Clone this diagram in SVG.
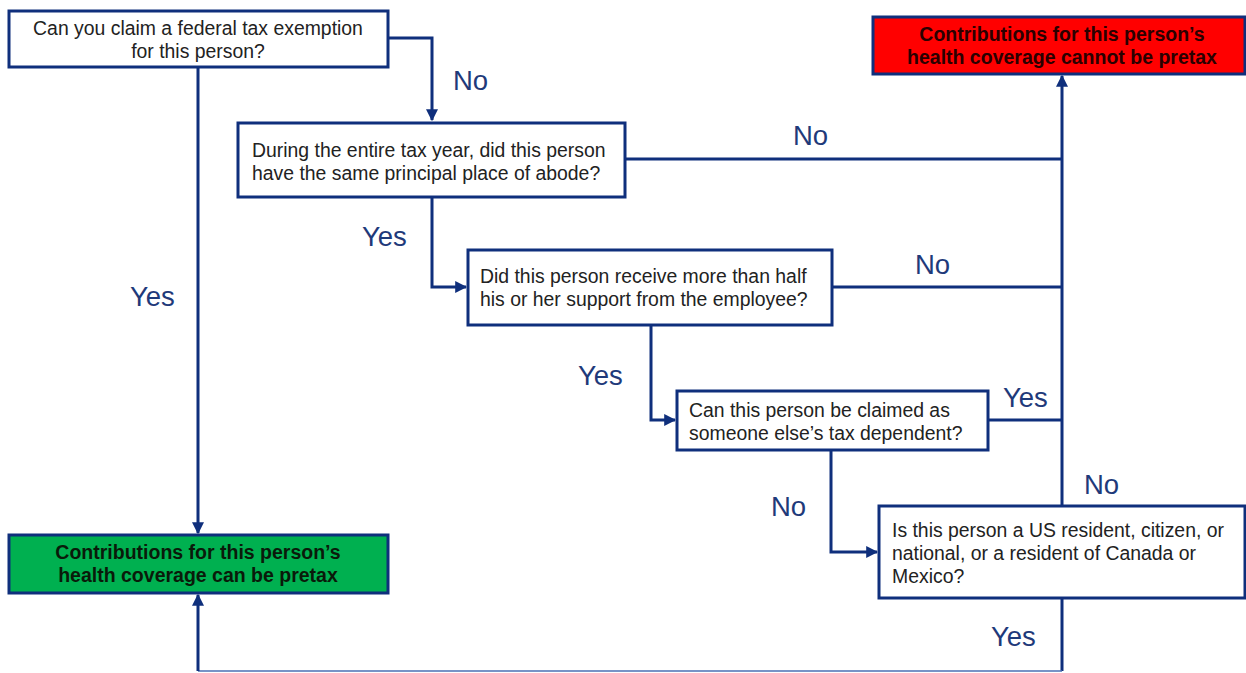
<svg xmlns="http://www.w3.org/2000/svg" width="1246" height="673" viewBox="0 0 1246 673">
<defs>
<marker id="arr" viewBox="0 0 10 10" refX="9" refY="5" markerWidth="4" markerHeight="4" orient="auto-start-reverse" markerUnits="strokeWidth">
<path d="M0,0 L10,5 L0,10 z" fill="#0f2f7c"/>
</marker>
<style>
.box{fill:#fff;stroke:#0f2f7c;stroke-width:3}
.q{font-family:"Liberation Sans",Arial,sans-serif;font-size:19.4px;fill:#222}
.o{font-family:"Liberation Sans",Arial,sans-serif;font-size:19.5px;font-weight:bold;text-anchor:middle}
.lbl{font-family:"Liberation Sans",Arial,sans-serif;font-size:27.5px;fill:#1f3a7a}
.c{fill:none;stroke:#0f2f7c;stroke-width:3}
</style>
</defs>
<rect width="1246" height="673" fill="#fff"/>
<g id="connectors">
<path class="c" d="M388,38 H432 V120" marker-end="url(#arr)"/>
<path class="c" d="M198,67 V533" marker-end="url(#arr)"/>
<path class="c" d="M625,159 H1062"/>
<path class="c" d="M432,197 V287 H466" marker-end="url(#arr)"/>
<path class="c" d="M832,287 H1062"/>
<path class="c" d="M651,325 V420 H675" marker-end="url(#arr)"/>
<path class="c" d="M988,420 H1062"/>
<path class="c" d="M831,450 V552 H877" marker-end="url(#arr)"/>
<path class="c" d="M1062,506 V76" marker-end="url(#arr)"/>
<path class="c" d="M1062,598 V671"/>
<path d="M1062,671 H198" fill="none" stroke="#4a6fb5" stroke-width="1.5"/>
<path class="c" d="M198,671 V595" marker-end="url(#arr)"/>
<text class="lbl" x="453" y="90">No</text>
<text class="lbl" x="130" y="306">Yes</text>
<text class="lbl" x="793" y="145">No</text>
<text class="lbl" x="362" y="246">Yes</text>
<text class="lbl" x="915" y="274">No</text>
<text class="lbl" x="578" y="385">Yes</text>
<text class="lbl" x="1003" y="407">Yes</text>
<text class="lbl" x="771" y="516">No</text>
<text class="lbl" x="1084" y="494">No</text>
<text class="lbl" x="991" y="646">Yes</text>
</g>
<g id="q1">
<rect class="box" x="9" y="11" width="379" height="56"/>
<text class="q" x="198" y="35" text-anchor="middle">Can you claim a federal tax exemption</text>
<text class="q" x="198" y="58" text-anchor="middle">for this person?</text>
</g>
<g id="q2">
<rect class="box" x="238" y="123" width="387" height="74"/>
<text class="q" x="252" y="157">During the entire tax year, did this person</text>
<text class="q" x="252" y="180">have the same principal place of abode?</text>
</g>
<g id="q3">
<rect class="box" x="468" y="250" width="364" height="75"/>
<text class="q" x="480" y="283">Did this person receive more than half</text>
<text class="q" x="480" y="306">his or her support from the employee?</text>
</g>
<g id="q4">
<rect class="box" x="677" y="391" width="311" height="59"/>
<text class="q" x="689" y="417">Can this person be claimed as</text>
<text class="q" x="689" y="440">someone else’s tax dependent?</text>
</g>
<g id="q5">
<rect class="box" x="879" y="506" width="366" height="92"/>
<text class="q" x="892" y="537">Is this person a US resident, citizen, or</text>
<text class="q" x="892" y="560">national, or a resident of Canada or</text>
<text class="q" x="892" y="583">Mexico?</text>
</g>
<g id="pretax">
<rect x="9" y="535" width="379" height="58" fill="#00b050" stroke="#0f2f7c" stroke-width="3"/>
<text class="o" x="198" y="559" fill="#0a1a0a">Contributions for this person’s</text>
<text class="o" x="198" y="582" fill="#0a1a0a">health coverage can be pretax</text>
</g>
<g id="notpretax">
<rect x="873" y="17" width="372" height="57" fill="#ff0000" stroke="#0f2f7c" stroke-width="3"/>
<text class="o" x="1062" y="41" fill="#2a0000">Contributions for this person’s</text>
<text class="o" x="1062" y="64" fill="#2a0000">health coverage cannot be pretax</text>
</g>
</svg>
